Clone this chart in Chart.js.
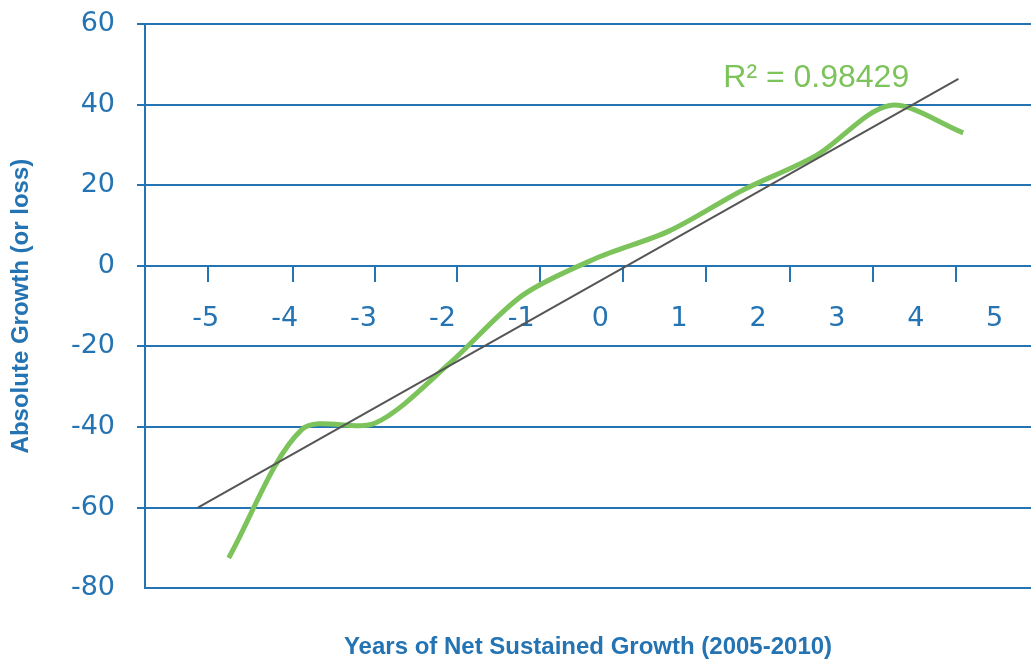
<!DOCTYPE html>
<html><head><meta charset="utf-8">
<script src="https://cdn.jsdelivr.net/npm/chart.js@4.4.1/dist/chart.umd.min.js"></script>
<style>html,body{margin:0;padding:0;background:#fff}#wrap{width:1031px;height:662px;position:relative}</style>
</head><body><div id="wrap"><canvas id="c"></canvas></div>
<script>
// ---- data ----
const yearOffsets    = [-4.71, -3.78, -2.85, -1.92, -0.99, -0.06, 0.87, 1.81, 2.74, 3.67, 4.60];
const absoluteGrowth = [-72.5, -40.6, -39.0, -24.4, -7.4, 1.8, 8.6, 18.8, 27.4, 39.8, 33.0];
const trendX = [-5.10, 4.54];
const trendY = [-60, 46.4];
const xTickLabels = [-5, -4, -3, -2, -1, 0, 1, 2, 3, 4, 5];
const xTickMarks  = [-4.97, -3.90, -2.86, -1.81, -0.76, 0.29, 1.34, 2.40, 3.46, 4.51];
const yTickValues = [-80, -60, -40, -20, 0, 20, 40, 60];
const r2Text = 'R\u00B2 = 0.98429';
const r2Anchor = {x: 1.56, y: 44.4};
const yTitle = 'Absolute Growth (or loss)';
const xTitle = 'Years of Net Sustained Growth (2005-2010)';

const BLUE = '#2473b2';
const GREEN = '#7dc35b';
const GRAY = '#555555';
const X_MIN = -5.77, X_MAX = 5.46;

const r2Plugin = {
  id: 'r2',
  afterDatasetsDraw(chart) {
    const {ctx, scales} = chart;
    ctx.save();
    ctx.font = '32px "Liberation Sans", Arial, sans-serif';
    ctx.fillStyle = GREEN;
    ctx.textAlign = 'left';
    ctx.textBaseline = 'alphabetic';
    ctx.fillText(r2Text, scales.x.getPixelForValue(r2Anchor.x), scales.y.getPixelForValue(r2Anchor.y));
    ctx.restore();
  }
};

const noPad = s => { s.paddingLeft = 0; s.paddingRight = 0; s.paddingTop = 0; s.paddingBottom = 0; };

new Chart(document.getElementById('c'), {
  type: 'line',
  data: {
    datasets: [
      {
        label: 'Trend',
        data: trendX.map((x, i) => ({x, y: trendY[i]})),
        borderColor: GRAY,
        borderWidth: 2,
        pointRadius: 0,
        tension: 0
      },
      {
        label: 'Growth',
        data: yearOffsets.map((x, i) => ({x, y: absoluteGrowth[i]})),
        borderColor: GREEN,
        borderWidth: 5,
        pointRadius: 0,
        tension: 0.3,
        borderCapStyle: 'butt'
      }
    ]
  },
  options: {
    responsive: true,
    maintainAspectRatio: false,
    animation: false,
    layout: {padding: {top: 24, right: 0, bottom: 0, left: 0}},
    plugins: {
      legend: {display: false},
      tooltip: {enabled: false},
      title: {
        display: true,
        text: xTitle,
        position: 'bottom',
        fullSize: false,
        color: BLUE,
        font: {family: '"Liberation Sans", Arial, sans-serif', size: 24, weight: 'bold'},
        padding: {top: 45, bottom: 0}
      }
    },
    scales: {
      x: {
        type: 'linear',
        min: X_MIN, max: X_MAX,
        position: {y: 0},
        afterBuildTicks: s => { s.ticks = xTickLabels.map(v => ({value: v})); },
        afterFit: noPad,
        ticks: {
          color: BLUE,
          font: {family: '"DejaVu Sans", sans-serif', size: 27},
          padding: 37,
          maxRotation: 0,
          autoSkip: false,
          callback: v => String(v)
        },
        grid: {display: false, drawTicks: false},
        border: {display: false}
      },
      x2: {
        type: 'linear',
        axis: 'x',
        min: X_MIN, max: X_MAX,
        position: {y: 0},
        afterBuildTicks: s => { s.ticks = xTickMarks.map(v => ({value: v})); },
        afterFit: noPad,
        ticks: {display: false},
        grid: {display: true, drawOnChartArea: false, drawTicks: true, tickLength: 16, color: BLUE, tickColor: BLUE, tickWidth: 2, lineWidth: 2},
        border: {display: false}
      },
      y: {
        type: 'linear',
        min: -80, max: 60,
        position: 'left',
        afterBuildTicks: s => { s.ticks = yTickValues.map(v => ({value: v})); },
        afterFit: s => { s.width = 145; noPad(s); },
        ticks: {
          color: BLUE,
          font: {family: '"DejaVu Sans", sans-serif', size: 27},
          padding: 22
        },
        grid: {
          color: BLUE,
          lineWidth: 2,
          tickLength: 8,
          tickWidth: 2,
          tickColor: c => (c.tick && c.tick.value === -80) ? 'rgba(0,0,0,0)' : BLUE
        },
        border: {display: true, color: BLUE, width: 2},
        title: {
          display: true,
          text: yTitle,
          color: BLUE,
          font: {family: '"Liberation Sans", Arial, sans-serif', size: 24, weight: 'bold'},
          padding: {top: 7, bottom: 0}
        }
      }
    }
  },
  plugins: [r2Plugin]
});
</script>
</body></html>
